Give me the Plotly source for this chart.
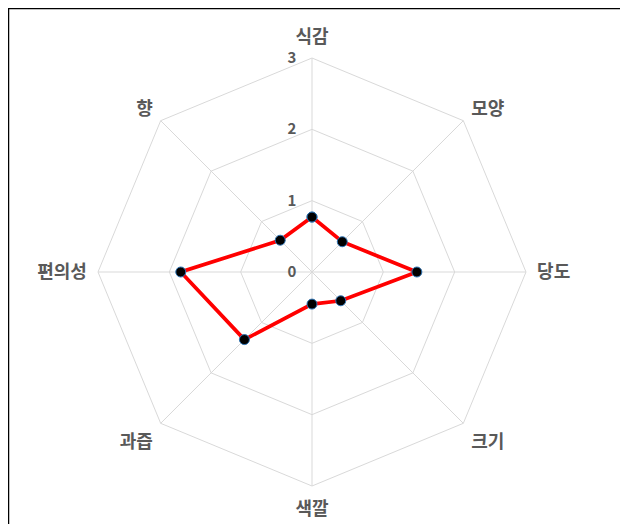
import plotly.graph_objects as go

categories = ["식감", "모양", "당도", "크기", "색깔", "과즙", "편의성", "향"]
values = [0.77, 0.6, 1.47, 0.57, 0.45, 1.34, 1.84, 0.63]
radial_ticks = [0, 1, 2, 3]

W, H = 620, 516
OFF = 8  # page body margin
cx, cy, R = 312 - OFF, 272 - OFF, 214

fig = go.Figure()
fig.add_trace(go.Scatterpolar(
    r=values + values[:1],
    theta=categories + categories[:1],
    mode="lines+markers",
    line=dict(color="#ff0000", width=3.75),
    marker=dict(size=10, color="#000000", line=dict(color="#2e75b6", width=1)),
    showlegend=False,
))

fig.update_layout(
    width=W, height=H,
    margin=dict(l=0, r=0, t=0, b=0),
    paper_bgcolor="white",
    font=dict(family="Noto Sans CJK KR", color="#595959"),
    polar=dict(
        domain=dict(x=[(cx - R) / W, (cx + R) / W],
                    y=[(H - cy - R) / H, (H - cy + R) / H]),
        bgcolor="white",
        gridshape="linear",
        radialaxis=dict(
            range=[0, 3], tickvals=radial_ticks, ticktext=[str(v) for v in radial_ticks],
            angle=90, tickangle=90, side="counterclockwise", showline=False,
            ticks="outside", ticklen=10, tickcolor="rgba(0,0,0,0)",
            gridcolor="#d9d9d9", gridwidth=1,
            tickfont=dict(size=15, color="#595959", family="Noto Sans CJK KR", weight="bold"),
        ),
        angularaxis=dict(
            rotation=90, direction="clockwise",
            gridcolor="#d9d9d9", linecolor="#d9d9d9", linewidth=1,
            ticks="outside", ticklen=7, tickcolor="rgba(0,0,0,0)",
            tickfont=dict(size=18, color="#595959", family="Noto Sans CJK KR", weight="bold"),
        ),
    ),
    shapes=[dict(type="rect", xref="paper", yref="paper",
                 x0=0.5 / W, x1=(W - 2) / W, y0=-0.02, y1=(H - 0.5) / H,
                 line=dict(color="#000000", width=1.5), fillcolor="rgba(0,0,0,0)")],
)

fig.write_html("out.html")
